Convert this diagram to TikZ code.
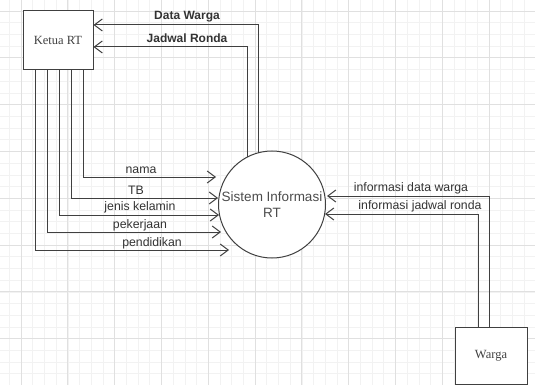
\documentclass[tikz,border=0pt]{standalone}
\usepackage{fontspec}
\setmainfont{Liberation Serif}
\setsansfont{Liberation Sans}
\usetikzlibrary{arrows.meta}
\begin{document}
\begin{tikzpicture}[x=1pt,y=-1pt,
  line/.style={draw=black!75, line width=1pt},
  arr/.style={line, -{Straight Barb[length=8pt,width=12pt]}},
  entity/.style={draw=black!75, line width=1pt, fill=white, font=\fontsize{12.5}{14}\selectfont\rmfamily, text=black!75},
  proc/.style={circle, draw=black!75, line width=1pt, fill=white, minimum size=107pt, inner sep=0pt, align=center, font=\fontsize{13.5}{15.5}\selectfont\sffamily, text=black!70},
  lbl/.style={inner sep=0pt, font=\fontsize{12.3}{14}\selectfont\sffamily, text=black!80},
  blbl/.style={lbl, font=\fontsize{12}{14}\selectfont\sffamily\bfseries}
]
\useasboundingbox (0,0) rectangle (535,385);
\fill[white] (0,0) rectangle (535,385);
% grid
\foreach \i in {0,...,46} {
  \draw[black!5, line width=0.6pt] ({-2.4+11.7*\i},0) -- ({-2.4+11.7*\i},385);
}
\foreach \i in {0,...,33} {
  \draw[black!5, line width=0.6pt] (0,{-0.7+11.7*\i}) -- (535,{-0.7+11.7*\i});
}
\foreach \i in {0,...,11} {
  \draw[black!12, line width=0.8pt] ({21+46.8*\i},0) -- ({21+46.8*\i},385);
}
\foreach \i in {0,...,8} {
  \draw[black!12, line width=0.8pt] (0,{11+46.8*\i}) -- (535,{11+46.8*\i});
}

% nodes
\node[entity, minimum width=70pt, minimum height=59pt] (ketua) at (58,40.5) {Ketua RT};
\node[proc] (sis) at (272,204.5) {Sistem Informasi\\RT};
\node[entity, minimum width=72pt, minimum height=57pt] (warga) at (491,356) {Warga};

% outputs to Ketua RT
\coordinate (dwa) at (258,153);
\coordinate (dwb) at (258,25);
\coordinate (jra) at (247,157);
\coordinate (jrb) at (247,47);
\draw[arr] (dwa) -- (dwb) -- (dwb -| ketua.east);
\draw[arr] (jra) -- (jrb) -- (jrb -| ketua.east);
\node[blbl] (ldw) at (187,17) {Data Warga};
\node[blbl] (ljr) at (187,38.5) {Jadwal Ronda};

% inputs from Ketua RT
\coordinate (k1) at (83,70);
\coordinate (k2) at (71,70);
\coordinate (k3) at (59,70);
\coordinate (k4) at (47,70);
\coordinate (k5) at (35,70);
\coordinate (t1) at (216,177);
\coordinate (t2) at (218,198);
\coordinate (t3) at (219,215);
\coordinate (t4) at (221,232);
\coordinate (t5) at (229,250);
\draw[arr] (k1) |- (t1);
\draw[arr] (k2) |- (t2);
\draw[arr] (k3) |- (t3);
\draw[arr] (k4) |- (t4);
\draw[arr] (k5) |- (t5);
\node[lbl] (l1) at (141,170) {nama};
\node[lbl] (l2) at (136,190.5) {TB};
\node[lbl] (l3) at (140,207.5) {jenis kelamin};
\node[lbl] (l4) at (140,225) {pekerjaan};
\node[lbl] (l5) at (152,243) {pendidikan};

% Warga to system
\coordinate (wa) at (489,327.5);
\coordinate (wb) at (489,196);
\coordinate (wc) at (478,327.5);
\coordinate (wd) at (478,214);
\coordinate (sa) at (327,196);
\coordinate (sb) at (325,214);
\draw[arr] (wa) -- (wb) -- (sa);
\draw[arr] (wc) -- (wd) -- (sb);
\node[lbl] (li1) at (411,188) {informasi data warga};
\node[lbl] (li2) at (420,206.5) {informasi jadwal ronda};
\end{tikzpicture}
\end{document}
